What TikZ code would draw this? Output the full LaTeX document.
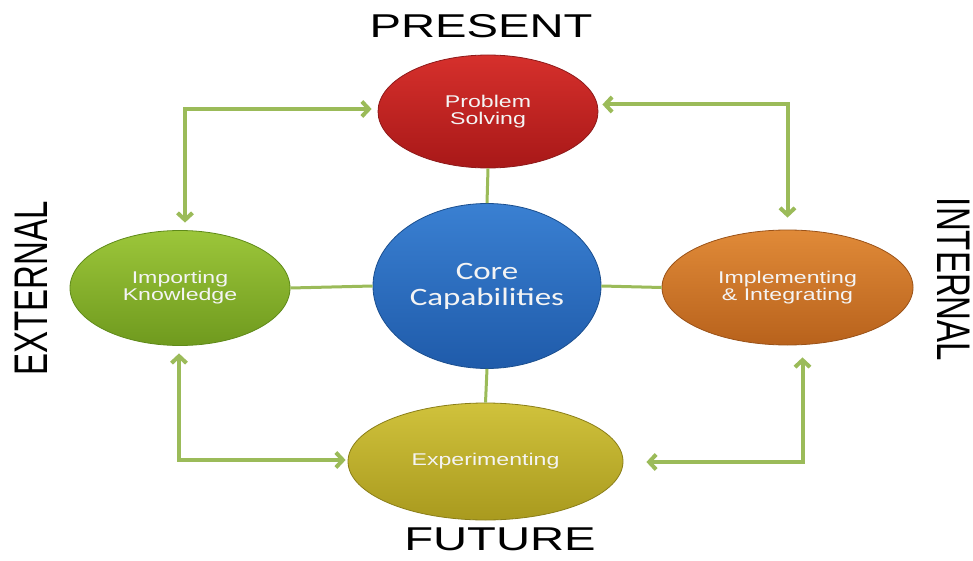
\documentclass[tikz,border=0pt]{standalone}
\usepackage{fontspec}
\setmainfont{Liberation Sans}
\newfontfamily\corefont{Carlito}
\usetikzlibrary{arrows.meta,shapes.geometric}
\newcommand{\hstr}[2][1.36]{\scalebox{#1}[1]{#2}}
\newcommand{\vstr}[2][1.43]{\scalebox{1}[#1]{#2}}
\definecolor{arrowgreen}{HTML}{9BBB59}
\definecolor{redtop}{HTML}{D6302C}\definecolor{redbot}{HTML}{A81818}\definecolor{redline}{HTML}{8E1A1A}
\definecolor{bluetop}{HTML}{3A80D2}\definecolor{bluebot}{HTML}{1F5BAA}\definecolor{blueline}{HTML}{1B4F8F}
\definecolor{greentop}{HTML}{9CC63A}\definecolor{greenbot}{HTML}{6F9A1E}\definecolor{greenline}{HTML}{5F8A19}
\definecolor{orangetop}{HTML}{E08A38}\definecolor{orangebot}{HTML}{B8621C}\definecolor{orangeline}{HTML}{9A5218}
\definecolor{yellowtop}{HTML}{D0C23C}\definecolor{yellowbot}{HTML}{A99A1E}\definecolor{yellowline}{HTML}{8A7E18}
\definecolor{bubbletext}{HTML}{F4F4F4}
\begin{document}
\begin{tikzpicture}[x=1pt,y=-1pt,
  bubble/.style={ellipse, inner sep=0pt, text=bubbletext, align=center,
    font=\fontsize{17}{17}\selectfont, line width=0.8pt},
  link/.style={draw=arrowgreen, line width=3pt},
  dbl/.style={draw=arrowgreen, line width=4pt,
    {Straight Barb[length=7pt,width=15pt]}-{Straight Barb[length=7pt,width=15pt]}},
  big/.style={font=\fontsize{33}{33}\selectfont, inner sep=0pt, text=black}
]
\useasboundingbox (0,0) rectangle (973,561);

% bubbles
\node[bubble, minimum width=220, minimum height=113,
  top color=redtop, bottom color=redbot, draw=redline] (ps) at (488,111.5)
  {\hstr{Problem}\\\hstr{Solving}};
\node[bubble, minimum width=228, minimum height=165,
  top color=bluetop, bottom color=bluebot, draw=blueline,
  font=\corefont\fontsize{25}{26}\selectfont] (cc) at (487,286)
  {\hstr[1.32]{Core}\\\hstr[1.32]{Capabilities}};
\node[bubble, minimum width=220, minimum height=115,
  top color=greentop, bottom color=greenbot, draw=greenline] (ik) at (180,288)
  {\hstr{Importing}\\\hstr{Knowledge}};
\node[bubble, minimum width=251, minimum height=115,
  top color=orangetop, bottom color=orangebot, draw=orangeline] (ii) at (787.5,287.5)
  {\hstr{Implementing}\\\hstr{\& Integrating}};
\node[bubble, minimum width=275, minimum height=117,
  top color=yellowtop, bottom color=yellowbot, draw=yellowline] (ex) at (485.5,461.5)
  {\hstr{Experimenting}};

% labels
\node[big] (present) at (481,26.5) {\hstr[1.43]{PRESENT}};
\node[big] (future) at (500,539.5) {\hstr[1.43]{FUTURE}};
\node[big, rotate=90] (external) at (31.5,288.5) {\vstr{EXTERNAL}};
\node[big, rotate=-90] (internal) at (953.5,279.5) {\vstr{INTERNAL}};

% links to the core
\draw[link] (ps.south) -- (cc.north);
\draw[link] (cc.south) -- (ex.north);
\draw[link] (ik.east) -- (cc.west);
\draw[link] (cc.east) -- (ii.west);

% double-headed elbow arrows
\draw[dbl, shorten <=7.5pt, shorten >=6pt] ([xshift=5pt]ik.north) |- ([yshift=2.5pt]ps.west);
\draw[dbl, shorten <=4pt, shorten >=12pt] ([yshift=7pt]ps.east) -| (ii.north);
\draw[dbl, shorten <=7.5pt, shorten >=2pt] ([xshift=-1pt]ik.south) |- ([yshift=1.5pt]ex.west);
\draw[dbl, shorten <=23pt, shorten >=12pt] ([yshift=-0.5pt]ex.east) -| ([xshift=15pt]ii.south);
\end{tikzpicture}
\end{document}
